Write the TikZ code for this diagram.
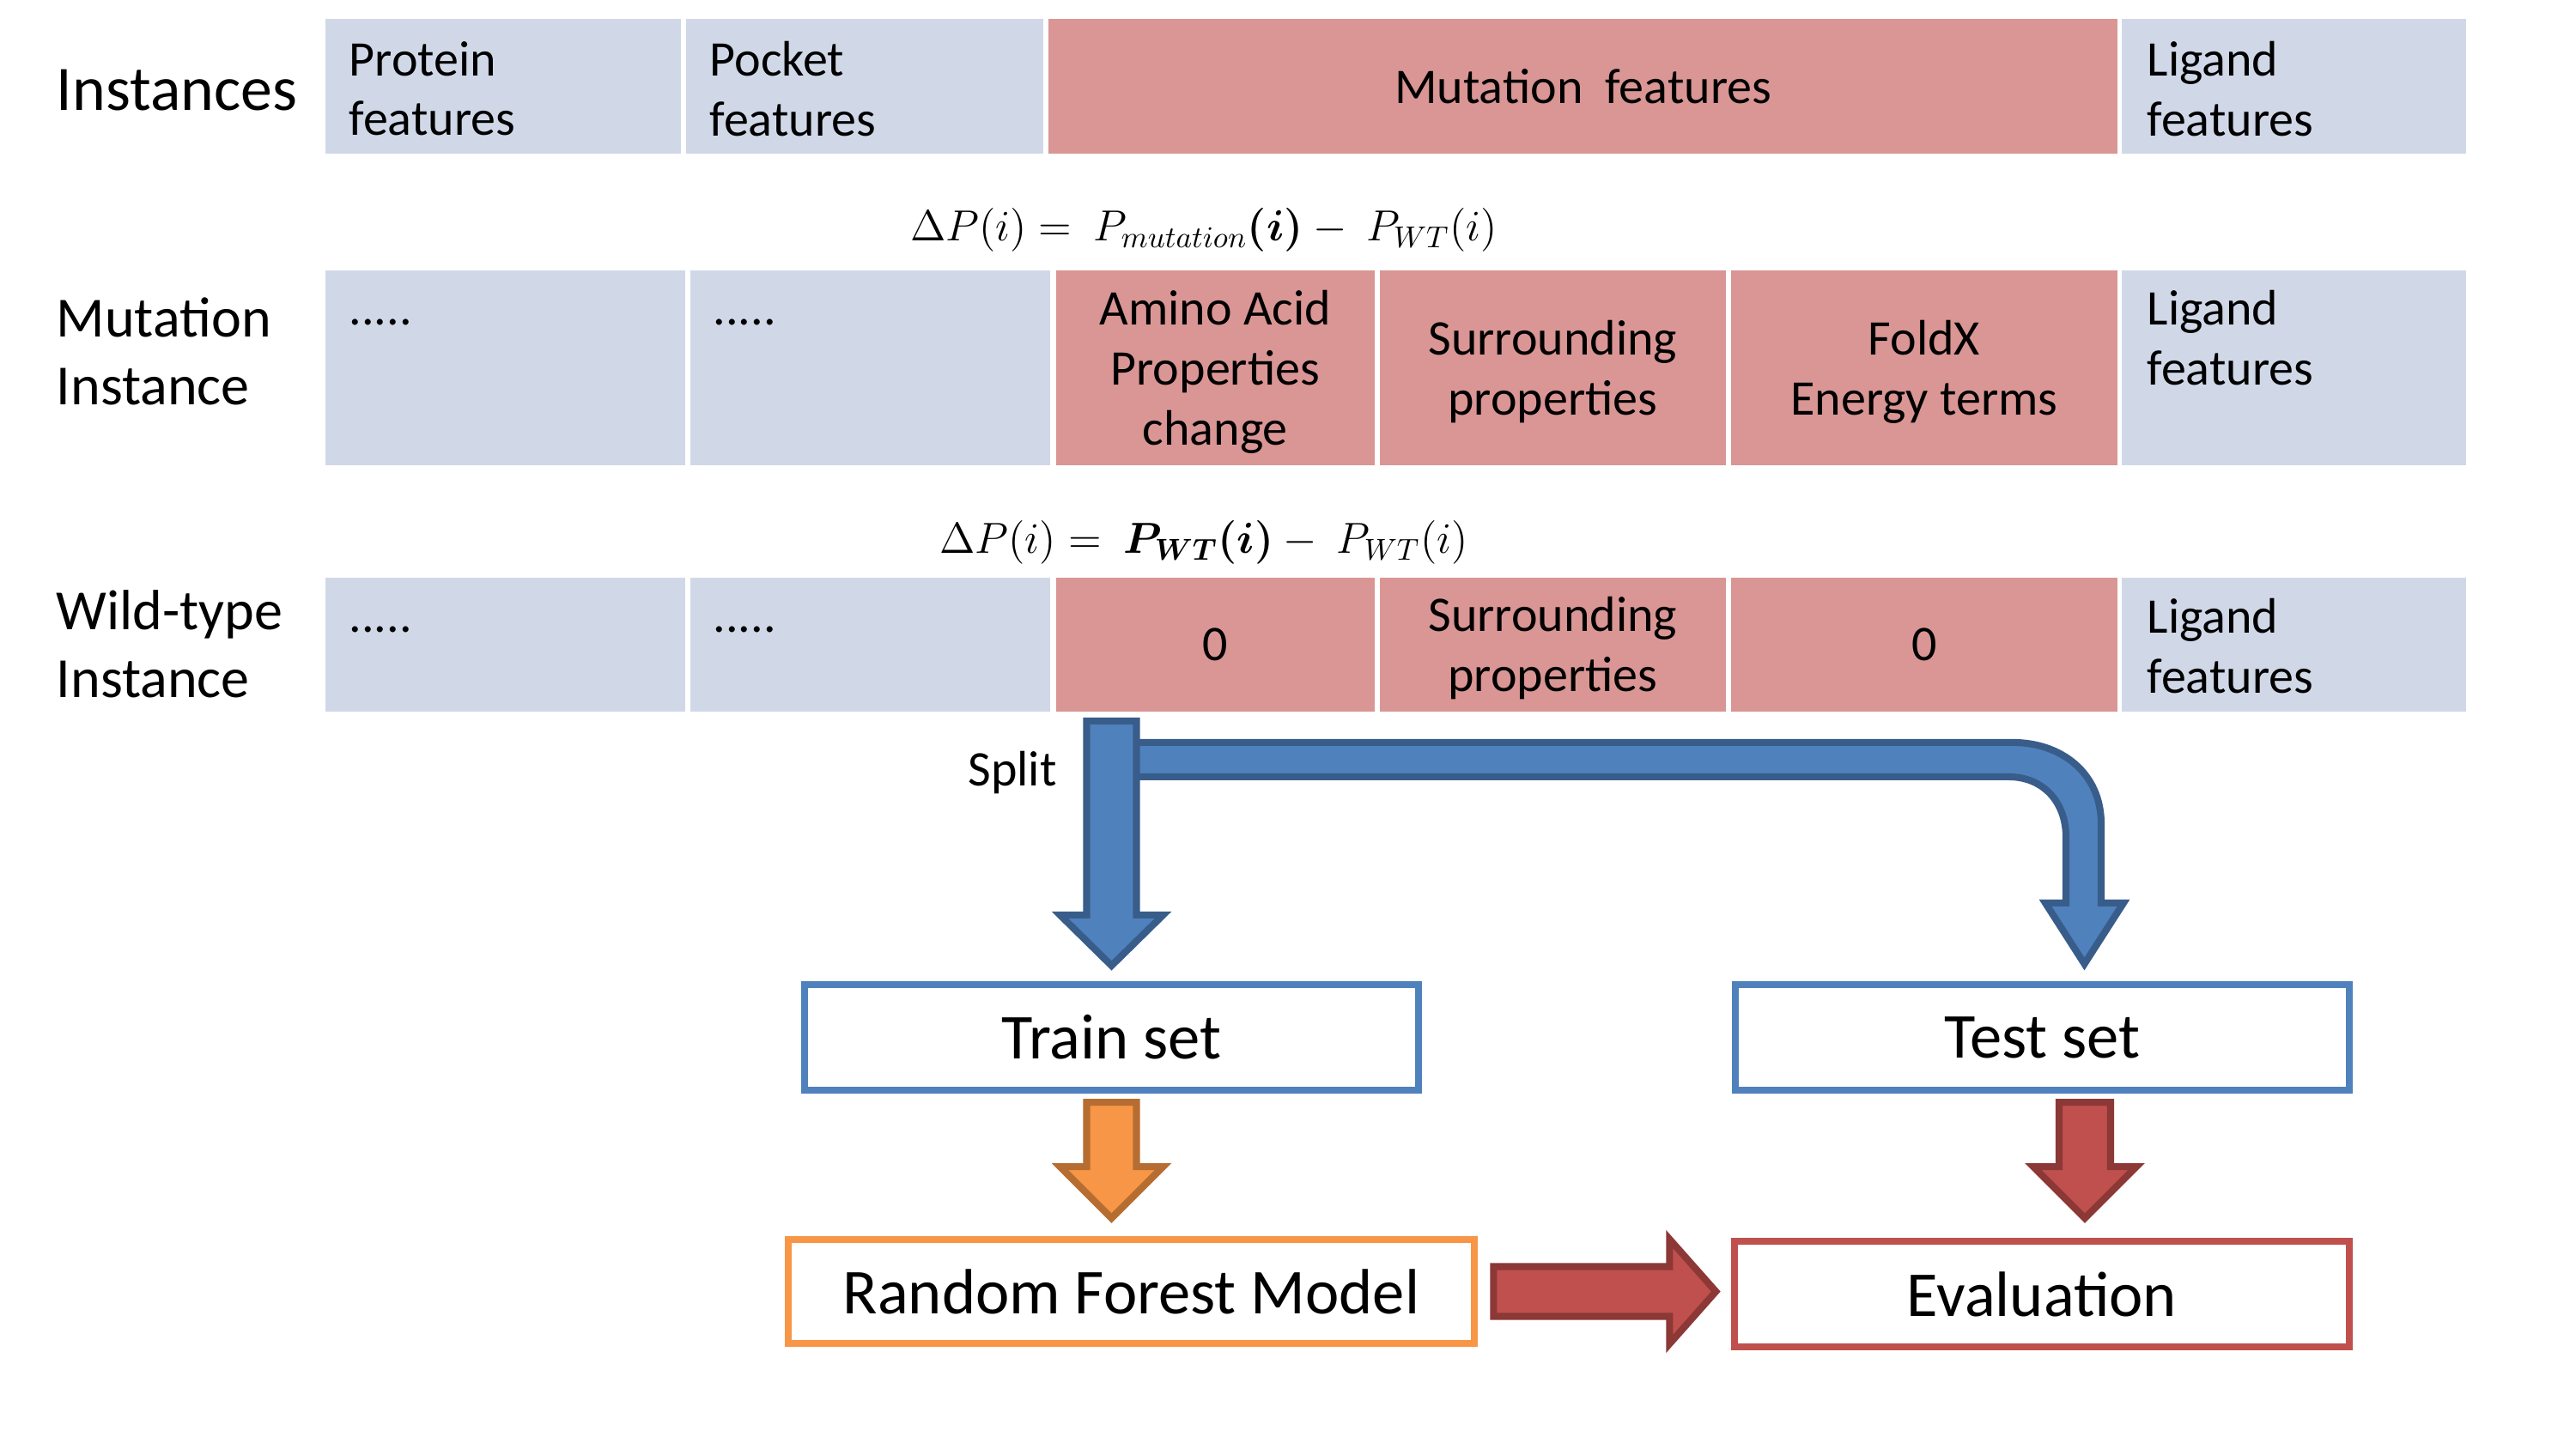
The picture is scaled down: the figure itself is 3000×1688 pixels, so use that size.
\documentclass[tikz,border=0pt]{standalone}
\usepackage{bm}
\usepackage{fontspec}
\setmainfont{Carlito}
\usetikzlibrary{calc}
\definecolor{cellblue}{HTML}{D0D8E8}
\definecolor{cellred}{HTML}{D99694}
\definecolor{bfill}{HTML}{4F81BD}
\definecolor{bline}{HTML}{385D8A}
\definecolor{ofill}{HTML}{F79646}
\definecolor{oline}{HTML}{B66D31}
\definecolor{rfill}{HTML}{C0504D}
\definecolor{rline}{HTML}{8C3836}
\newcommand\myCellFont{\fontsize{16.5}{19.9}\selectfont}
\newcommand\myRowFont{\fontsize{18.8}{22.5}\selectfont}
\newcommand\myTitleFont{\fontsize{21}{24}\selectfont}
\newcommand\myBoxFont{\fontsize{21.2}{24}\selectfont}
\newcommand\myEqFont{\fontsize{14.4}{17}\selectfont}
\begin{document}
\begin{tikzpicture}[x=0.01cm,y=-0.01cm,
  cellB/.style={fill=cellblue, inner sep=0pt, anchor=north west},
  cellR/.style={fill=cellred, inner sep=0pt, anchor=north west, align=center, font=\myCellFont, text depth=0pt},
  txt/.style={inner sep=0pt, font=\myCellFont, align=left},
  rowlbl/.style={inner sep=0pt, anchor=west, align=left, font=\myRowFont},
  eqn/.style={inner sep=0pt, font=\myEqFont},
  box/.style={draw, line width=2.3pt, fill=white, inner sep=0pt, font=\myBoxFont},
  blk/.style={line width=2.3pt, line join=miter}]
\useasboundingbox (0,0) rectangle (3000,1688);

% row labels
\node[rowlbl, font=\myTitleFont] (lab1) at (65,105) {Instances};
\node[rowlbl] (lab2) at (65,409) {Mutation\\Instance};
\node[rowlbl] (lab3) at (65,750) {Wild-type\\Instance};

% row 1
\node[cellB, minimum width=4.14cm, minimum height=1.57cm] (p1) at (378,21) {};
\node[cellB, minimum width=4.16cm, minimum height=1.57cm] (k1) at (798,21) {};
\node[cellR, minimum width=12.45cm, minimum height=1.57cm] (m1) at (1220,21) {Mutation\ \ features};
\node[cellB, minimum width=4.01cm, minimum height=1.57cm] (l1) at (2470,21) {};
\node[txt, anchor=west] (p1t) at ($(p1.west)+(28,3)$) {Protein\\features};
\node[txt, anchor=west] (k1t) at ($(k1.west)+(28,3)$) {Pocket\\features};
\node[txt, anchor=west] (l1t) at ($(l1.west)+(30,3)$) {Ligand\\features};

% equation 1
\node[eqn] (eq1) at (1402,268) {$\Delta P(i) =\ P_{mutation}\bm{(i)} -\ P_{WT}(i)$};

% row 2
\node[cellB, minimum width=4.19cm, minimum height=2.27cm] (p2) at (378,314) {};
\node[cellB, minimum width=4.19cm, minimum height=2.27cm] (k2) at (803,314) {};
\node[cellR, minimum width=3.71cm, minimum height=2.27cm] (a2) at (1229,314) {Amino Acid\\Properties\\change};
\node[cellR, minimum width=4.03cm, minimum height=2.27cm] (s2) at (1606,314) {Surrounding\\properties};
\node[cellR, minimum width=4.50cm, minimum height=2.27cm] (f2) at (2015,314) {FoldX\\Energy terms};
\node[cellB, minimum width=4.01cm, minimum height=2.27cm] (l2) at (2470,314) {};
\node[txt, anchor=base west] (p2t) at (406,378) {.....};
\node[txt, anchor=base west] (k2t) at (830,378) {.....};
\node[txt, anchor=north west] (l2t) at (2500,338) {Ligand\\features};

% equation 2
\node[eqn] (eq2) at (1402,632) {$\Delta P(i) =\ \bm{P}_{\bm{WT}}\bm{(i)} -\ P_{WT}(i)$};

% row 3
\node[cellB, minimum width=4.19cm, minimum height=1.56cm] (p3) at (378,672) {};
\node[cellB, minimum width=4.19cm, minimum height=1.56cm] (k3) at (803,672) {};
\node[cellR, minimum width=3.71cm, minimum height=1.56cm] (a3) at (1229,672) {0};
\node[cellR, minimum width=4.03cm, minimum height=1.56cm] (s3) at (1606,672) {Surrounding\\properties};
\node[cellR, minimum width=4.50cm, minimum height=1.56cm] (f3) at (2015,672) {0};
\node[cellB, minimum width=4.01cm, minimum height=1.56cm] (l3) at (2470,672) {};
\node[txt, anchor=base west] (p3t) at (406,736) {.....};
\node[txt, anchor=base west] (k3t) at (830,736) {.....};
\node[txt, anchor=west] (l3t) at ($(l3.west)+(30,2)$) {Ligand\\features};

% boxes
\node[box, draw=bfill, minimum width=7.15cm, minimum height=1.23cm] (train) at (1294.5,1208.5) {Train set};
\node[box, draw=bfill, minimum width=7.15cm, minimum height=1.23cm] (test) at (2378.5,1208.5) {Test set};
\node[box, draw=ofill, minimum width=7.99cm, minimum height=1.21cm] (rf) at (1317.5,1504.5) {Random Forest Model};
\node[box, draw=rfill, minimum width=7.16cm, minimum height=1.23cm] (ev) at (2378,1507.5) {Evaluation};

\node[txt] (split) at (1179,900) {Split};

% split arrow
\begin{scope}[shift={(train.north)}]
\draw[blk, fill=bfill, draw=bline] (0,-278) -- (1049.5,-278)
  .. controls (1105.5,-278) and (1152.5,-243) .. (1152.5,-183)
  -- (1152.5,-91) -- (1178.5,-91) -- (1133,-20) -- (1087.5,-91) -- (1111.5,-91)
  -- (1111.5,-168) .. controls (1111.5,-208) and (1085.5,-238) .. (1044.5,-238)
  -- (0,-238) -- cycle;
\draw[blk, fill=bfill, draw=bline] (-29,-303) -- (29,-303) -- (29,-77) -- (60,-77)
  -- (0,-18) -- (-60,-77) -- (-29,-77) -- cycle;
\end{scope}

% train -> rf
\begin{scope}[shift={(train.south)}]
\draw[blk, fill=ofill, draw=oline] (-29,10) -- (29,10) -- (29,85) -- (60,85)
  -- (0,145) -- (-60,85) -- (-29,85) -- cycle;
\end{scope}

% test -> evaluation
\begin{scope}[shift={(test.south)}]
\draw[blk, fill=rfill, draw=rline] (19.5,10) -- (79.5,10) -- (79.5,85) -- (109.5,85)
  -- (49.5,145) -- (-10.5,85) -- (19.5,85) -- cycle;
\end{scope}

% rf -> evaluation
\begin{scope}[shift={(rf.east)}]
\draw[blk, fill=rfill, draw=rline] (18,-29) -- (223,-29) -- (223,-61) -- (277,0)
  -- (223,61) -- (223,29) -- (18,29) -- cycle;
\end{scope}
\end{tikzpicture}
\end{document}
